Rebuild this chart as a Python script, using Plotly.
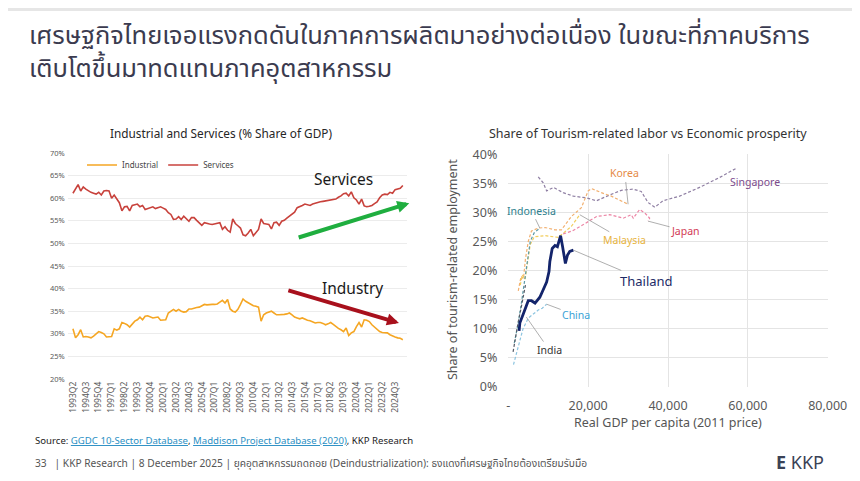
import plotly.graph_objects as go

# the page shows the figure with an 8px body margin, so the figure is sized to
# fill the rest of the 860x481 window and positions below are window pixels
OFF = 8
W, H = 860 - OFF, 481 - OFF
FONT = "Noto Sans, Noto Sans Thai, Loma, Garuda, sans-serif"


def X(p):
    return (p - OFF) / W


def Y(p):
    return 1 - (p - OFF) / H


# ---- left chart: share of GDP, quarterly 1993Q2-2025Q2 ----
quarters = [f"{y}Q{q}" for y in range(1993, 2026) for q in range(1, 5)][1:130]

industrial = [
    31.1, 29.1, 29.8, 30.9, 29.3, 29.4, 29.3, 29.1, 29.5, 30.1,
    30.5, 30.3, 30.0, 29.3, 29.3, 29.4, 31.1, 30.8, 31.1, 32.5,
    32.3, 32.0, 31.5, 32.2, 32.8, 33.1, 33.7, 33.1, 33.9, 34.0,
    33.7, 33.5, 33.6, 33.7, 33.0, 33.0, 33.1, 34.6, 35.1, 35.4,
    35.0, 35.4, 35.0, 34.8, 34.9, 35.5, 35.5, 35.7, 35.8, 35.9,
    36.2, 36.5, 36.4, 36.5, 36.5, 36.5, 36.6, 37.0, 37.4, 36.8,
    37.6, 35.5, 35.0, 34.8, 35.4, 36.5, 37.7, 37.2, 36.8, 36.5,
    36.2, 36.1, 35.9, 32.8, 34.2, 34.6, 34.8, 35.0, 34.6, 34.2,
    34.2, 34.2, 34.3, 34.4, 34.6, 34.2, 33.7, 33.5, 33.3, 33.5,
    33.2, 33.0, 32.9, 32.7, 32.4, 32.5, 32.5, 32.3, 32.0, 32.2,
    32.5, 32.1, 31.6, 31.2, 30.9, 30.5, 31.3, 29.6, 30.2, 30.5,
    31.6, 32.5, 31.5, 33.1, 33.0, 32.7, 32.0, 31.5, 30.8, 30.5,
    30.3, 30.2, 30.2, 29.8, 29.5, 29.3, 29.1, 29.0, 28.7,
]

services = [
    61.1, 62.2, 63.0, 61.6, 62.5, 62.0, 61.6, 61.3, 61.1, 60.9,
    61.3, 60.7, 61.6, 61.7, 61.6, 60.0, 60.7, 59.8, 59.0, 57.2,
    58.1, 58.2, 57.2, 58.4, 58.6, 58.7, 58.1, 58.4, 57.5, 57.7,
    57.9, 58.1, 57.7, 57.9, 58.1, 57.8, 57.5, 56.8, 56.4, 55.3,
    55.4, 55.9, 55.3, 56.0, 55.5, 54.9, 55.7, 55.7, 55.1, 54.6,
    54.0, 54.6, 54.4, 54.3, 54.2, 54.3, 54.4, 54.6, 53.1, 53.7,
    52.9, 52.5, 55.4, 54.4, 53.9, 53.4, 51.9, 51.7, 52.3, 53.1,
    51.7, 52.3, 53.1, 55.4, 54.4, 54.3, 54.2, 53.2, 54.6, 54.7,
    54.0, 54.9, 55.1, 55.6, 56.0, 56.5, 56.9, 57.9, 58.1, 58.4,
    58.7, 58.6, 58.4, 58.7, 58.9, 59.0, 59.2, 59.3, 59.4, 59.5,
    59.6, 59.7, 59.8, 60.2, 60.5, 61.0, 61.1, 60.5, 61.4, 60.1,
    59.6, 58.7, 59.8, 58.3, 58.1, 58.2, 58.4, 58.8, 59.2, 60.1,
    60.7, 60.9, 60.8, 61.3, 61.1, 61.9, 62.0, 62.2, 62.8,
]

left_yticks = [20, 25, 30, 35, 40, 45, 50, 55, 60, 65, 70]

# ---- right chart: tourism-related employment vs GDP per capita ----
thailand_gdp = [2700, 2900, 3750, 4300, 5000, 5800, 6700, 7900, 8750, 9600, 10200,
                10400, 11000, 11700, 12300, 12700, 13100, 13600, 14300, 14800, 15400, 16300]
thailand_share = [9.6, 11.0, 12.5, 13.7, 14.8, 14.8, 14.4, 15.4, 16.6, 18.0, 19.8,
                  21.5, 23.8, 24.3, 24.1, 25.0, 26.0, 24.1, 21.2, 22.6, 23.3, 23.5]

singapore_gdp = [7500, 8750, 9600, 11300, 13750, 16300, 19600, 22100, 25400, 28300,
                 31300, 33300, 35000, 36700, 38750, 42900, 47900, 52900, 57100]
singapore_share = [36.1, 35.1, 33.7, 34.3, 33.4, 32.8, 32.5, 32.0, 33.0, 33.8,
                   34.0, 33.6, 31.7, 30.9, 32.0, 32.8, 34.3, 36.0, 37.6]

korea_gdp = [2500, 3200, 3800, 4300, 5000, 5800, 7500, 9200, 11700, 13300, 15800,
             18300, 20000, 20800, 23300, 25800, 30000]
korea_share = [16.5, 19.0, 18.6, 22.0, 25.0, 26.8, 27.3, 27.4, 27.0, 27.0, 29.3,
               30.8, 33.7, 34.1, 33.4, 32.8, 31.4]

malaysia_gdp = [3000, 3500, 4200, 4800, 5500, 6500, 9200, 12500, 15800, 17900]
malaysia_share = [17.5, 19.2, 18.5, 21.0, 24.5, 25.8, 26.0, 25.7, 27.6, 29.6]

japan_gdp = [13750, 16000, 18800, 22100, 25400, 28800, 30800, 31300, 32900, 34200, 35400, 35000]
japan_share = [26.3, 26.8, 27.9, 29.3, 29.6, 29.0, 29.6, 29.0, 30.5, 29.9, 29.0, 28.5]

indonesia_gdp = [1500, 2500, 3300, 4200, 4800, 5500, 6500, 7900]
indonesia_share = [7.5, 11.0, 14.5, 18.5, 22.0, 25.0, 26.5, 27.3]

china_gdp = [1300, 2500, 3700, 5000, 6500, 7500, 8500, 9600]
china_share = [3.8, 7.0, 10.0, 11.8, 12.6, 13.2, 13.5, 14.2]

india_gdp = [1200, 1800, 2500, 3200, 3800, 4300]
india_share = [6.0, 8.5, 11.2, 13.5, 15.5, 17.5]

right_xticks = [0, 20000, 40000, 60000, 80000]
right_xticktext = ["-", "20,000", "40,000", "60,000", "80,000"]
right_yticks = [0, 5, 10, 15, 20, 25, 30, 35, 40]

fig = go.Figure()

fig.add_trace(go.Scatter(x=quarters, y=industrial, name="Industrial", mode="lines",
                         line=dict(color="#f5a623", width=1.6), xaxis="x", yaxis="y"))
fig.add_trace(go.Scatter(x=quarters, y=services, name="Services", mode="lines",
                         line=dict(color="#c8423c", width=1.6), xaxis="x", yaxis="y"))

# dashed comparison countries first, Thailand on top
others = [
    (singapore_gdp, singapore_share, "#8f7fa3"),
    (korea_gdp, korea_share, "#f2b070"),
    (malaysia_gdp, malaysia_share, "#f2cd5c"),
    (japan_gdp, japan_share, "#ec85a5"),
    (indonesia_gdp, indonesia_share, "#5b9aa6"),
    (china_gdp, china_share, "#8cc4e0"),
    (india_gdp, india_share, "#555a66"),
]
for gx, gy, col in others:
    fig.add_trace(go.Scatter(x=gx, y=gy, mode="lines", showlegend=False,
                             line=dict(color=col, width=1.2, dash="3px,2px"),
                             xaxis="x2", yaxis="y2"))
fig.add_trace(go.Scatter(x=thailand_gdp, y=thailand_share, mode="lines", showlegend=False,
                         line=dict(color="#13246b", width=2.8), xaxis="x2", yaxis="y2"))

grid = "#e4e4e4"
tick_col = "#595959"

fig.update_layout(
    width=W, height=H,
    margin=dict(l=0, r=0, t=0, b=0, pad=0, autoexpand=False),
    paper_bgcolor="white", plot_bgcolor="white",
    font=dict(family=FONT, color="#333333"),
    showlegend=True,
    legend=dict(orientation="h", x=X(82), y=Y(165), xanchor="left", yanchor="middle",
                font=dict(size=8, color="#444444"), bgcolor="rgba(0,0,0,0)",
                itemwidth=30, tracegroupgap=0),
    xaxis=dict(domain=[X(67.8), X(406.7)], type="category", range=[-2, 129.5],
               tickvals=quarters[::5], ticktext=quarters[::5], tickangle=-90,
               showgrid=False, zeroline=False, automargin=False,
               tickfont=dict(size=8.5, color=tick_col), ticks="", fixedrange=True),
    yaxis=dict(domain=[Y(379), Y(153)], range=[20, 70], tickvals=left_yticks,
               ticktext=[f"{v}%" for v in left_yticks], gridcolor="#ececec",
               zeroline=False, automargin=False,
               tickfont=dict(size=7.5, color=tick_col), ticks="", ticklabelstandoff=2),
    xaxis2=dict(domain=[X(508.3), X(827.7)], range=[0, 80000], tickvals=right_xticks,
                ticktext=right_xticktext, gridcolor=grid, zeroline=False, automargin=False,
                tickfont=dict(size=12.5, color=tick_col), ticks="", anchor="y2",
                ticklabelstandoff=10),
    yaxis2=dict(domain=[Y(386.7), Y(154.3)], range=[0, 40], tickvals=right_yticks,
                ticktext=[f"{v}%" for v in right_yticks], gridcolor=grid, zeroline=False,
                automargin=False, tickfont=dict(size=12.5, color=tick_col), ticks="",
                anchor="x2", ticklabelstandoff=10),
)

ann = []


def paper_text(x, y, text, size, color="#333333", xanchor="left", **kw):
    ann.append(dict(x=X(x), y=Y(y), xref="paper", yref="paper", text=text,
                    showarrow=False, xanchor=xanchor, yanchor="middle",
                    font=dict(size=size, color=color, family=FONT), **kw))


# slide title (two lines in one block)
paper_text(27, 50, "เศรษฐกิจไทยเจอแรงกดดันในภาคการผลิตมาอย่างต่อเนื่อง ในขณะที่ภาคบริการ<br>"
           "เติบโตขึ้นมาทดแทนภาคอุตสาหกรรม", 25.5, "#3b3b4f", align="left")

# chart titles and axis titles
paper_text(221, 133, "Industrial and Services (% Share of GDP)", 11.8, "#262626", xanchor="center")
paper_text(648, 133, "Share of Tourism-related labor vs Economic prosperity", 12.5, "#333333", xanchor="center")
paper_text(668, 422, "Real GDP per capita (2011 price)", 12.5, "#555555", xanchor="center")
ann.append(dict(x=X(452), y=Y(270), xref="paper", yref="paper",
                text="Share of tourism-related employment", showarrow=False, textangle=-90,
                font=dict(size=12.5, color="#555555", family=FONT)))

# footer
link = "#2a8fc4"
paper_text(33, 440, "Source: <span style='color:%s'><u>GGDC 10-Sector Database</u></span>, "
           "<span style='color:%s'><u>Maddison Project Database (2020)</u></span>, KKP Research" % (link, link),
           9.6, "#222222")
paper_text(33, 463, "33   | KKP Research | 8 December 2025 | ยุคอุตสาหกรรมถดถอย (Deindustrialization): "
           "ธงแดงที่เศรษฐกิจไทยต้องเตรียมรับมือ", 10.2, "#555555")
paper_text(774, 462, "<b>Ε</b> KKP", 18, "#3a4256")

# left chart trend labels and arrows
ann.append(dict(x=105, y=64.2, xref="x", yref="y", text="Services", showarrow=False,
                font=dict(size=15.5, color="#1a1a1a", family=FONT)))
ann.append(dict(x=108.5, y=40.1, xref="x", yref="y", text="Industry", showarrow=False,
                font=dict(size=15.5, color="#1a1a1a", family=FONT)))
ann.append(dict(x=130.5, y=58.9, ax=87, ay=51.2, xref="x", yref="y", axref="x", ayref="y",
                text="", showarrow=True, arrowhead=2, arrowsize=0.6, arrowwidth=4,
                arrowcolor="#1fae3f"))
ann.append(dict(x=126.5, y=32.4, ax=83, ay=39.7, xref="x", yref="y", axref="x", ayref="y",
                text="", showarrow=True, arrowhead=2, arrowsize=0.6, arrowwidth=4,
                arrowcolor="#a8101c"))


# right chart country labels with leader lines
def country(label, px_, py_, lx, ly, color, size=10.5):
    if px_ is None:
        ann.append(dict(x=lx, y=ly, xref="x2", yref="y2", text=label, showarrow=False,
                        font=dict(size=size, color=color, family=FONT)))
    else:
        ann.append(dict(x=px_, y=py_, ax=lx, ay=ly, xref="x2", yref="y2", axref="x2", ayref="y2",
                        text=label, showarrow=True, arrowhead=0, arrowwidth=0.8,
                        arrowcolor="#9a9a9a", font=dict(size=size, color=color, family=FONT)))


country("Korea", 30000, 31.4, 29200, 36.7, "#e58a46")
country("Singapore", None, None, 61800, 35.3, "#7c4b8c")
country("Japan", 35000, 28.5, 44400, 26.8, "#d23b55")
country("Malaysia", 17900, 29.6, 29000, 25.2, "#e8b440")
country("Thailand", 16300, 23.5, 34500, 18.2, "#1d2a66", size=13)
country("Indonesia", 7900, 27.3, 5800, 30.3, "#2e7f8e")
country("China", 9600, 14.2, 17000, 12.3, "#3aa3d6")
country("India", 4500, 12.0, 10300, 6.3, "#333333")

fig.update_layout(annotations=ann)
fig.add_shape(type="rect", xref="paper", yref="paper", x0=0, x1=1, y0=1 - 3 / H, y1=1,
              fillcolor="#e6e6e6", line_width=0)

fig.write_html("out.html")
